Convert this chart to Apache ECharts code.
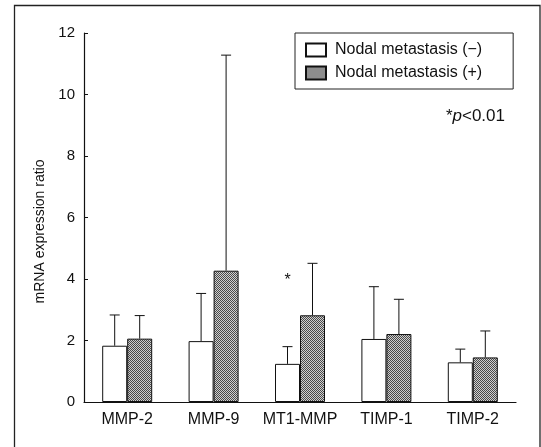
<!DOCTYPE html>
<html>
<head>
<meta charset="utf-8">
<script src="https://cdn.jsdelivr.net/npm/echarts@6/dist/echarts.min.js"></script>
<style>
  html, body { margin: 0; padding: 0; background: #fff; }
  #chart { width: 541px; height: 447px; }
</style>
</head>
<body>
<div id="chart"></div>
<script>
// values
var categories = ['MMP-2', 'MMP-9', 'MT1-MMP', 'TIMP-1', 'TIMP-2']
var negMean = [1.83, 1.98, 1.24, 2.05, 1.29]
var negUpper = [2.83, 3.53, 1.80, 3.75, 1.72]
var posMean = [2.06, 4.27, 2.82, 2.21, 1.45]
var posUpper = [2.81, 11.28, 4.51, 3.34, 2.31]
var seriesNames = ['Nodal metastasis (\u2212)', 'Nodal metastasis (+)']
var sigCategory = ['MT1-MMP']
var sigValue = [3.95]
var yTicks = [0, 2, 4, 6, 8, 10, 12]

var FONT = 'Liberation Sans'
var BAR_W = 25

// halftone fill for the (+) bars
function makePattern () {
  var c = document.createElement('canvas')
  c.width = 2
  c.height = 2
  var ctx = c.getContext('2d')
  ctx.fillStyle = '#d0d0d0'
  ctx.fillRect(0, 0, 2, 2)
  ctx.fillStyle = '#4a4a4a'
  ctx.fillRect(0, 0, 1, 1)
  ctx.fillRect(1, 1, 1, 1)
  return c
}
var shade = { image: makePattern(), repeat: 'repeat' }

function errData (mean, upper) {
  return categories.map(function (c, i) { return [i, mean[i], upper[i]] })
}

function errRender (side) {
  return function (params, api) {
    var base = api.coord([api.value(0), api.value(1)])
    var top = api.coord([api.value(0), api.value(2)])
    var x = base[0] + side * BAR_W / 2
    var style = { stroke: '#111', lineWidth: 1 }
    return {
      type: 'group',
      children: [
        { type: 'line', shape: { x1: x, y1: base[1], x2: x, y2: top[1] }, style: style },
        { type: 'line', shape: { x1: x - 5, y1: top[1], x2: x + 5, y2: top[1] }, style: style }
      ]
    }
  }
}

var chart = echarts.init(document.getElementById('chart'))
var option = {
  animation: false,
  grid: { left: 84, right: 25, top: 33, bottom: 45 },
  legend: {
    orient: 'vertical',
    left: 295,
    top: 33,
    padding: [9, 31, 8, 10],
    itemGap: 7,
    itemWidth: 20,
    itemHeight: 13,
    icon: 'rect',
    borderColor: '#222',
    borderWidth: 1,
    textStyle: { fontFamily: FONT, fontSize: 16, color: '#111', padding: [0, 0, 0, 4] },
    data: seriesNames
  },
  graphic: [
    {
      type: 'rect',
      shape: { x: 14.5, y: 5.5, width: 525.5, height: 460 },
      style: { fill: 'none', stroke: '#222', lineWidth: 1.3 },
      silent: true
    },
    {
      type: 'text',
      right: 36,
      top: 108,
      style: {
        text: '{a|*}{p|p}{a|<0.01}',
        rich: {
          a: { fontFamily: FONT, fontSize: 17, fill: '#111' },
          p: { fontFamily: FONT, fontSize: 17, fontStyle: 'italic', fill: '#111' }
        }
      }
    }
  ],
  xAxis: {
    type: 'category',
    data: categories,
    axisLine: { lineStyle: { color: '#111', width: 1.2 } },
    axisTick: { inside: true, length: 7, lineStyle: { color: '#111' } },
    axisLabel: { interval: 0, fontFamily: FONT, fontSize: 16, color: '#111', margin: 10 }
  },
  yAxis: {
    type: 'value',
    min: 0,
    max: 12,
    interval: 2,
    name: 'mRNA expression ratio',
    nameLocation: 'middle',
    nameGap: 36,
    nameTextStyle: { fontFamily: FONT, fontSize: 14, color: '#111', padding: [0, 28, 0, 0] },
    splitLine: { show: false },
    axisLine: { show: true, lineStyle: { color: '#111', width: 1.2 } },
    axisTick: { show: true, inside: true, length: 4, lineStyle: { color: '#111' } },
    axisLabel: {
      fontFamily: FONT,
      fontSize: 15,
      color: '#111',
      margin: 9,
      customValues: yTicks
    }
  },
  series: [
    {
      name: seriesNames[0],
      type: 'bar',
      barWidth: BAR_W,
      barGap: '0%',
      data: negMean,
      itemStyle: { color: '#fff', borderColor: '#111', borderWidth: 1 }
    },
    {
      name: seriesNames[1],
      type: 'bar',
      barWidth: BAR_W,
      barGap: '0%',
      data: posMean,
      itemStyle: { color: shade, borderColor: '#111', borderWidth: 1 }
    },
    {
      type: 'custom',
      renderItem: errRender(-1),
      data: errData(negMean, negUpper),
      encode: { x: 0, y: [1, 2] },
      z: 3
    },
    {
      type: 'custom',
      renderItem: errRender(1),
      data: errData(posMean, posUpper),
      encode: { x: 0, y: [1, 2] },
      z: 3
    },
    {
      type: 'custom',
      data: sigCategory.map(function (c, i) { return [categories.indexOf(c), sigValue[i]] }),
      encode: { x: 0, y: 1 },
      renderItem: function (params, api) {
        var p = api.coord([api.value(0), api.value(1)])
        return {
          type: 'text',
          x: p[0] - BAR_W / 2,
          y: p[1],
          style: { text: '*', fontFamily: FONT, fontSize: 16, fill: '#111', align: 'center', verticalAlign: 'middle' }
        }
      },
      z: 3
    }
  ]
}
chart.setOption(option)
</script>
</body>
</html>
